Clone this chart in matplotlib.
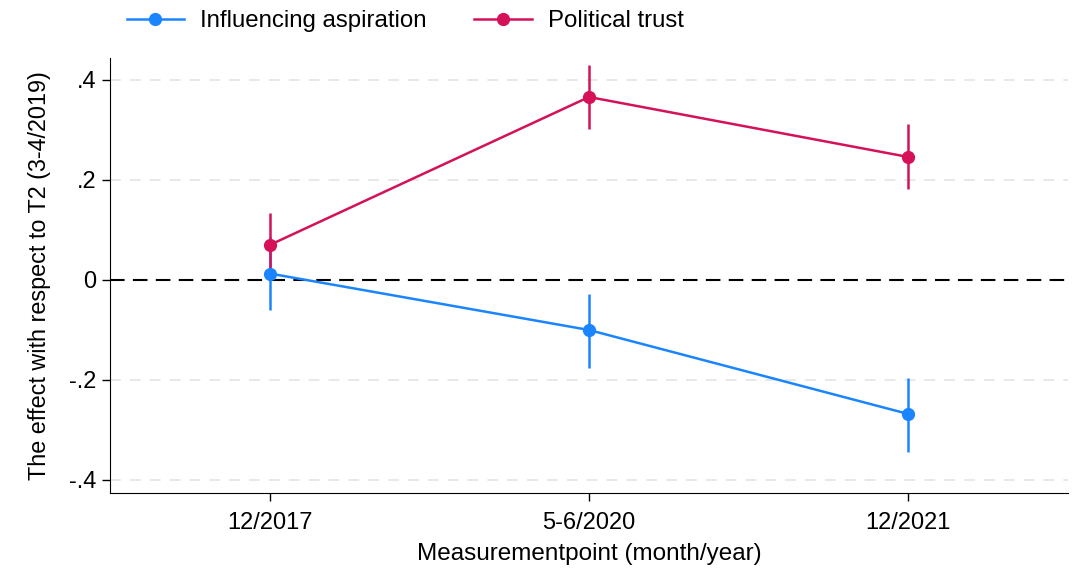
import matplotlib
matplotlib.use("Agg")
import matplotlib.pyplot as plt
import numpy as np

categories = ["12/2017", "5-6/2020", "12/2021"]
asp_est = [0.013, -0.100, -0.268]
asp_lo = [-0.060, -0.175, -0.343]
asp_hi = [0.087, -0.027, -0.195]
trust_est = [0.070, 0.366, 0.246]
trust_lo = [0.005, 0.302, 0.182]
trust_hi = [0.134, 0.430, 0.312]
yticks = [-0.4, -0.2, 0, 0.2, 0.4]
ytick_labels = ["-.4", "-.2", "0", ".2", ".4"]

plt.rcParams['font.family'] = ['Liberation Sans', 'DejaVu Sans']

fig = plt.figure(figsize=(10.89, 5.70), dpi=100)
ax = fig.add_axes([110/1089, 77/570, (1068-110)/1089, (493-58)/570])

x = np.arange(1, len(categories) + 1)
blue = "#1A85FF"
red = "#D41159"

for yv in yticks:
    if yv != 0:
        ax.axhline(yv, color="#e6e6e6", lw=1.3, dashes=(6, 5), zorder=0)
ax.axhline(0, color="black", lw=1.5, dashes=(7, 4), zorder=1)

def series(est, lo, hi, color, label):
    est = np.array(est); lo = np.array(lo); hi = np.array(hi)
    ax.errorbar(x, est, yerr=[est - lo, hi - est], fmt="none", ecolor=color,
                elinewidth=1.8, capsize=0, zorder=3)
    ax.plot(x, est, color=color, lw=1.8, marker="o", markersize=8.5, label=label, zorder=4)

series(asp_est, asp_lo, asp_hi, blue, "Influencing aspiration")
series(trust_est, trust_lo, trust_hi, red, "Political trust")

ax.set_xlim(0.5, 3.5)
ax.set_ylim(-0.426, 0.444)
ax.set_xticks(x)
ax.set_xticklabels(categories)
ax.set_yticks(yticks)
ax.set_yticklabels(ytick_labels)
ax.tick_params(axis="both", labelsize=17, length=6, width=1, direction="out")
ax.tick_params(axis="x", pad=8)
ax.tick_params(axis="y", pad=4)
for s in ["top", "right"]:
    ax.spines[s].set_visible(False)
ax.set_xlabel("Measurementpoint (month/year)", fontsize=17.5, labelpad=6)
ax.set_ylabel("The effect with respect to T2 (3-4/2019)", fontsize=16.8, labelpad=13)

fig.legend(loc="center", bbox_to_anchor=(405/1089, 1 - 21/570), ncol=2, frameon=False,
           fontsize=17.3, handlelength=2.4, handletextpad=0.65, columnspacing=2.0)

fig.savefig("out.png", dpi=100, facecolor="white")
